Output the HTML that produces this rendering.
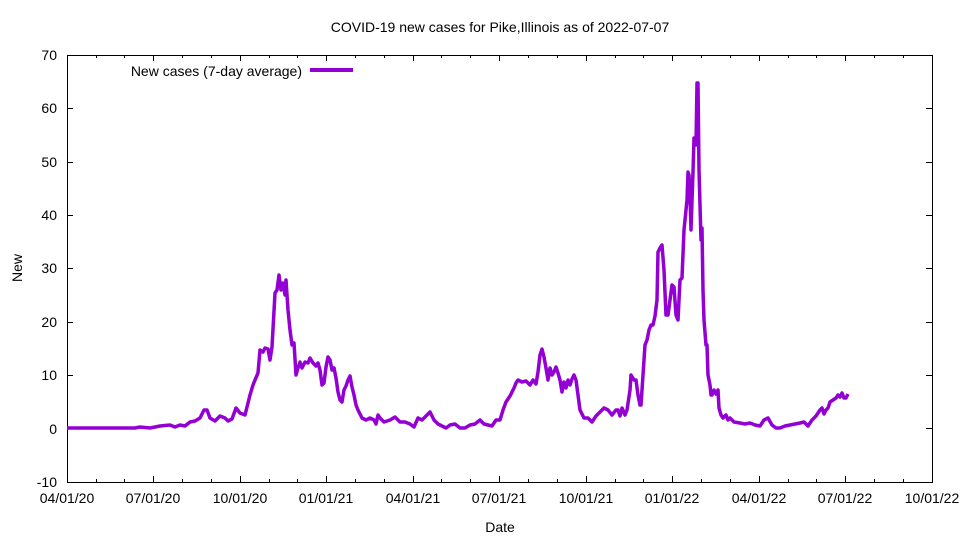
<!DOCTYPE html>
<html><head><meta charset="utf-8"><style>body{margin:0;background:#fff}svg{display:block;font-family:"Liberation Sans",Arial,sans-serif}</style></head>
<body>
<svg width="960" height="540" xmlns="http://www.w3.org/2000/svg">
<rect width="960" height="540" fill="#fff"/>
<text x="500" y="32" font-size="14" text-anchor="middle">COVID-19 new cases for Pike,Illinois as of 2022-07-07</text>
<g stroke="#000" stroke-width="1">
<path d="M67 482.5h6M926 482.5h6M67 428.5h6M926 428.5h6M67 375.5h6M926 375.5h6M67 322.5h6M926 322.5h6M67 268.5h6M926 268.5h6M67 215.5h6M926 215.5h6M67 162.5h6M926 162.5h6M67 108.5h6M926 108.5h6"/>
<path d="M67.5 482v-6M67.5 55v6M96.5 482v-3M96.5 55v3M124.5 482v-3M124.5 55v3M153.5 482v-6M153.5 55v6M182.5 482v-3M182.5 55v3M211.5 482v-3M211.5 55v3M240.5 482v-6M240.5 55v6M269.5 482v-3M269.5 55v3M297.5 482v-3M297.5 55v3M326.5 482v-6M326.5 55v6M355.5 482v-3M355.5 55v3M384.5 482v-3M384.5 55v3M413.5 482v-6M413.5 55v6M441.5 482v-3M441.5 55v3M470.5 482v-3M470.5 55v3M499.5 482v-6M499.5 55v6M528.5 482v-3M528.5 55v3M557.5 482v-3M557.5 55v3M586.5 482v-6M586.5 55v6M615.5 482v-3M615.5 55v3M643.5 482v-3M643.5 55v3M672.5 482v-6M672.5 55v6M701.5 482v-3M701.5 55v3M730.5 482v-3M730.5 55v3M759.5 482v-6M759.5 55v6M788.5 482v-3M788.5 55v3M816.5 482v-3M816.5 55v3M845.5 482v-6M845.5 55v6M874.5 482v-3M874.5 55v3M903.5 482v-3M903.5 55v3"/>
</g>
<rect x="67.5" y="55.5" width="865" height="427" fill="none" stroke="#000"/>
<g font-size="14" text-anchor="end">
<text x="57" y="487">-10</text><text x="57" y="434">0</text><text x="57" y="380">10</text><text x="57" y="327">20</text><text x="57" y="273">30</text><text x="57" y="220">40</text><text x="57" y="167">50</text><text x="57" y="113">60</text><text x="57" y="60">70</text>
</g>
<g font-size="14" text-anchor="middle">
<text x="67" y="503">04/01/20</text><text x="153" y="503">07/01/20</text><text x="240" y="503">10/01/20</text><text x="326" y="503">01/01/21</text><text x="413" y="503">04/01/21</text><text x="499" y="503">07/01/21</text><text x="586" y="503">10/01/21</text><text x="672" y="503">01/01/22</text><text x="759" y="503">04/01/22</text><text x="845" y="503">07/01/22</text><text x="932" y="503">10/01/22</text>
<text x="500" y="532">Date</text>
<text x="22" y="268" transform="rotate(-90 22 268)">New</text>
</g>
<text x="302" y="76" font-size="14" text-anchor="end">New cases (7-day average)</text>
<line x1="310" y1="70" x2="353" y2="70" stroke="#9400d3" stroke-width="4"/>
<polyline fill="none" stroke="#9400d3" stroke-width="3.5" stroke-linejoin="round" points="67,428 135,428 140,427 150,428 160,426 170,425 175,427 180,425 185,426 190,422 195,421 200,418 204,410 207,410 210,418 215,421 220,416 225,418 228,421 232,419 236,408 240,413 245,415 248,403 250,395 253,385 255,380 258,373 260,350 263,352 265,348 268,349 270,360 272,347 275,293 277,290 279,275 281,290 283,283 285,295 286,280 288,310 290,330 292,345 294,343 296,375 298,368 300,362 302,368 305,362 308,363 310,358 313,363 316,366 318,363 320,370 322,385 324,383 326,367 328,357 330,360 332,370 334,368 336,378 338,392 340,400 342,402 344,390 346,386 348,380 350,376 352,387 354,395 356,405 358,410 362,418 366,420 370,418 374,420 376,424 378,415 380,418 384,422 390,420 395,417 400,422 405,422 410,424 414,427 418,418 422,420 426,416 430,412 434,420 438,424 442,426 446,428 450,425 455,424 460,428 465,428 470,425 475,424 480,420 484,424 488,425 492,426 496,420 500,420 503,410 506,402 510,396 514,388 516,383 518,380 522,382 526,381 530,385 533,380 536,384 538,372 540,355 542,349 544,357 546,368 548,380 550,368 552,375 554,372 556,367 558,373 560,380 562,392 564,382 566,388 568,380 570,385 572,379 574,375 576,380 578,395 580,410 584,418 588,418 592,422 596,416 600,412 604,408 608,410 612,415 616,410 618,410 620,416 622,408 625,415 627,410 630,390 631,375 634,380 636,380 638,395 640,405 641,405 643,375 645,345 647,340 649,330 651,325 653,325 655,316 657,300 658,252 660,248 662,245 664,270 666,315 668,315 670,300 672,285 674,287 676,315 678,320 680,280 682,278 684,230 685,220 687,200 688,172 689,175 690,195 691,230 693,172 694,138 696,145 697,83 698,83 699,170 701,240 702,228 703,290 704,320 706,345 707,345 708,375 710,385 711,395 712,395 714,390 716,394 718,390 719,408 721,415 723,418 726,415 728,420 730,418 734,422 740,423 745,424 750,423 755,425 760,426 764,420 768,418 772,425 776,428 780,428 785,426 790,425 795,424 800,423 804,422 808,426 812,420 816,416 820,410 822,408 824,414 826,410 828,408 830,402 833,400 836,398 838,395 840,397 842,393 844,398 846,398 848,394"/>
</svg>
</body></html>
